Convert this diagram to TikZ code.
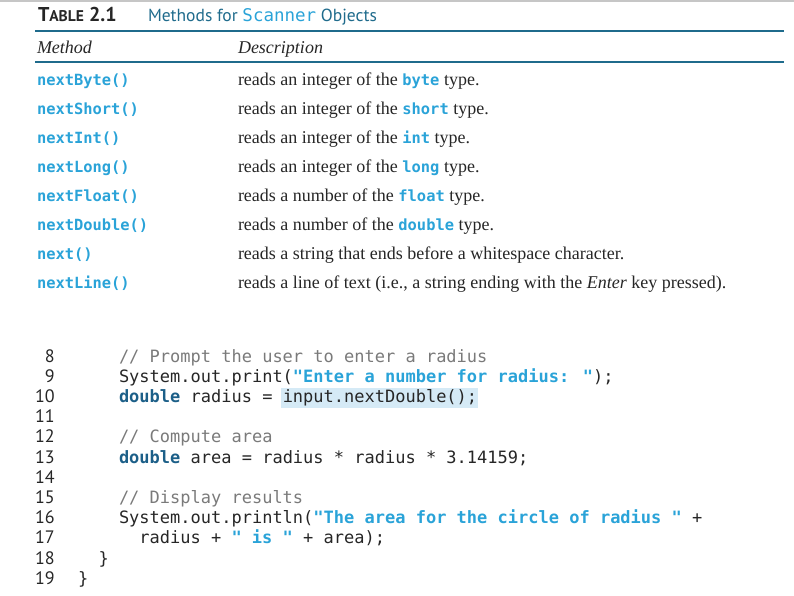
\documentclass[tikz,border=0pt]{standalone}
\usepackage{fontspec}
\setmainfont{Liberation Serif}
\newfontfamily\codefont{DejaVu Sans Mono}
\newfontfamily\headfont{PT Sans}
\usepackage{tikz}
\definecolor{jcyan}{HTML}{2AA3D8}
\definecolor{jkey}{HTML}{1C5F88}
\definecolor{jteal}{HTML}{1F6B8C}
\definecolor{jgray}{HTML}{7A7A7A}
\definecolor{ink}{HTML}{262626}
\definecolor{hlblue}{HTML}{D5EAF6}
\newcommand{\jt}[1]{{\codefont\bfseries\fontsize{15.4}{17}\selectfont\color{jcyan}#1}}
\newcommand{\jkw}[1]{{\bfseries\color{jkey}#1}}
\newcommand{\js}[1]{{\bfseries\color{jcyan}#1}}
\newcommand{\jcm}[1]{{\color{jgray}#1}}
\tikzset{txt/.style={anchor=base west, inner sep=0pt, outer sep=0pt},
  meth/.style={txt, font=\codefont\bfseries\fontsize{15.4}{17}\selectfont, text=jcyan},
  desc/.style={txt, font=\fontsize{18}{20}\selectfont, text=ink},
  colhead/.style={txt, font=\itshape\fontsize{18}{20}\selectfont, text=ink},
  lnum/.style={anchor=base east, inner sep=0pt, font=\headfont\fontsize{18}{20}\selectfont, text=ink},
  code/.style={txt, font=\codefont\fontsize{17}{20}\selectfont, text=ink},
  rule/.style={draw=jteal, line width=1.4pt}}

\begin{document}
\begin{tikzpicture}[x=1pt, y=-1pt]
    \useasboundingbox (0,0) rectangle (794,595);
    \draw [gray!45, line width=1.5pt] (0,1) -- (794,1);

    % table
    \node [txt, font=\headfont\bfseries, text=ink] (tabno) at (38,21)
      {\fontsize{20}{22}\selectfont T\fontsize{15.5}{17}\selectfont ABLE\fontsize{20}{22}\selectfont{} 2.1};
    \node [txt, font=\headfont\fontsize{17.5}{20}\selectfont, text=jteal] (caption) at (148,21)
      {Methods for {\codefont\fontsize{17.5}{20}\selectfont\color{jcyan}Scanner} Objects};
    \draw [rule] (35,31) -- (784,31);
    \node [colhead] (hmeth) at (37,53) {Method};
    \node [colhead] (hdesc) at (238,53) {Description};
    \draw [rule] (35,62) -- (784,62);
    \foreach \m/\d [count=\i from 0] in {
        nextByte()/{reads an integer of the \jt{byte} type.},
        nextShort()/{reads an integer of the \jt{short} type.},
        nextInt()/{reads an integer of the \jt{int} type.},
        nextLong()/{reads an integer of the \jt{long} type.},
        nextFloat()/{reads a number of the \jt{float} type.},
        nextDouble()/{reads a number of the \jt{double} type.},
        next()/{reads a string that ends before a whitespace character.},
        nextLine()/{reads a line of text (i.e., a string ending with the \textit{Enter} key pressed).}} {
      \node [meth] (m\i) at (37,{85+29*\i}) {\m};
      \node [desc] (d\i) at (238,{85+29*\i}) {\d};
    }

    % listing
    \fill [hlblue] (281,388) rectangle (478,408);
    \foreach \n [count=\i from 0] in {8,...,19} {
      \node [lnum] (l\n) at (55,{362+20.2*\i}) {\n};
    }
    \node [code] (c8) at ([xshift=64pt]l8.base east) {\jcm{// Prompt the user to enter a radius}};
    \node [code] (c9) at ([xshift=64pt]l9.base east) {System.out.print(\js{"Enter a number for radius: "});};
    \node [code] (c10) at ([xshift=64pt]l10.base east) {\jkw{double} radius = input.nextDouble();};
    \node [code] (c12) at ([xshift=64pt]l12.base east) {\jcm{// Compute area}};
    \node [code] (c13) at ([xshift=64pt]l13.base east) {\jkw{double} area = radius * radius * 3.14159;};
    \node [code] (c15) at ([xshift=64pt]l15.base east) {\jcm{// Display results}};
    \node [code] (c16) at ([xshift=64pt]l16.base east) {System.out.println(\js{"The area for the circle of radius "} +};
    \node [code] (c17) at ([xshift=84.4pt]l17.base east) {radius + \js{" is "} + area);};
    \node [code] (c18) at ([xshift=43.6pt]l18.base east) {\}};
    \node [code] (c19) at ([xshift=23.2pt]l19.base east) {\}};
\end{tikzpicture}
\end{document}
